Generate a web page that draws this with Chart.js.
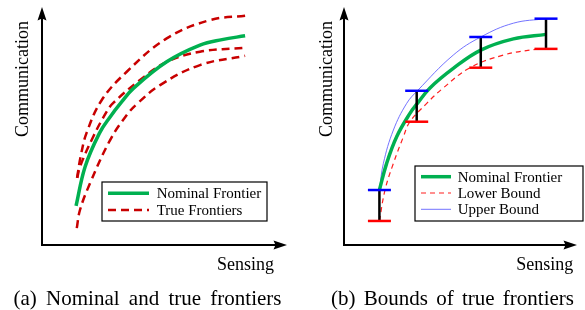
<!DOCTYPE html>
<html>
<head>
<meta charset="utf-8">
<script src="https://cdn.jsdelivr.net/npm/chart.js@4.4.1/dist/chart.umd.min.js"></script>
<style>
  html, body { margin: 0; padding: 0; background: #fff; }
  #wrap { position: relative; width: 585px; height: 310px; }
  canvas { position: absolute; top: 0; }
</style>
</head>
<body>
<div id="wrap">
  <canvas id="chartA" width="292" height="310" style="left:0"></canvas>
  <canvas id="chartB" width="293" height="310" style="left:292px"></canvas>
</div>
<script>
// ---- (a) nominal and true frontiers (sensing / communication, arbitrary units 0..10)
const nominalX_a = [1.39, 1.76, 2.34, 2.78, 3.25, 3.73, 5.09, 6.45, 7.35, 8.29];
const nominalY_a = [1.64, 3.29, 4.69, 5.38, 6.01, 6.58, 7.70, 8.40, 8.63, 8.79];

const trueHighX_a = [1.43, 1.59, 1.82, 2.44, 3.46, 5.09, 6.86, 8.29];
const trueHighY_a = [2.82, 3.78, 4.71, 6.09, 7.28, 8.68, 9.45, 9.63];

const trueMidX_a = [1.44, 1.55, 2.09, 2.64, 2.91, 4.00, 5.09, 6.45, 8.29];
const trueMidY_a = [2.82, 3.29, 4.55, 5.60, 5.97, 6.93, 7.69, 8.12, 8.29];

const trueLowX_a = [1.42, 1.55, 1.96, 2.78, 3.46, 3.87, 4.82, 6.45, 8.29];
const trueLowY_a = [0.71, 1.47, 2.59, 4.41, 5.46, 5.92, 6.72, 7.56, 7.95];

// ---- (b) bounds of true frontiers
const nominalX_b = [1.52, 1.83, 2.26, 2.83, 3.15, 3.69, 4.69, 5.87, 7.27, 8.67];
const nominalY_b = [2.31, 3.43, 4.55, 5.53, 5.95, 6.60, 7.42, 8.19, 8.66, 8.85];

const lowerX_b = [1.52, 1.76, 2.12, 2.55, 2.83, 3.55, 4.26, 5.41, 6.84, 8.20, 8.67];
const lowerY_b = [1.01, 2.31, 3.43, 4.55, 5.18, 5.95, 6.60, 7.45, 7.98, 8.22, 8.24];

const upperX_b = [1.52, 1.69, 2.12, 2.69, 3.15, 4.69, 5.87, 7.27, 8.67];
const upperY_b = [2.31, 3.43, 4.83, 5.95, 6.48, 7.98, 8.74, 9.32, 9.51];

const barX_b = [1.52, 3.12, 5.87, 8.67];
const barHigh_b = [2.31, 6.48, 8.74, 9.51];
const barLow_b = [1.01, 5.18, 7.45, 8.24];

const SERIF = '"Liberation Serif", "Times New Roman", serif';
const GREEN = 'rgb(0,176,80)';

function pts(xs, ys) {
  return xs.map((x, i) => ({ x: x, y: ys[i] }));
}

// axes with arrows, axis titles, boxed legend and the caption
const sketchFrame = {
  id: 'sketchFrame',
  afterDraw(chart, args, o) {
    const ctx = chart.ctx;
    const xs = chart.scales.x, ys = chart.scales.y;
    const ox = xs.getPixelForValue(xs.min), oy = ys.getPixelForValue(ys.min);
    const ex = xs.getPixelForValue(xs.max), ey = ys.getPixelForValue(ys.max);
    ctx.save();
    ctx.strokeStyle = '#000';
    ctx.fillStyle = '#000';
    ctx.lineWidth = 2;
    ctx.beginPath();
    ctx.moveTo(ox, oy); ctx.lineTo(ox, ey + 10);
    ctx.moveTo(ox - 1, oy); ctx.lineTo(ex - 10, oy);
    ctx.stroke();
    // stealth-like arrow heads
    ctx.beginPath();
    ctx.moveTo(ox, ey); ctx.lineTo(ox - 4.5, ey + 13.5); ctx.lineTo(ox, ey + 11.5); ctx.lineTo(ox + 4.5, ey + 13.5); ctx.closePath();
    ctx.moveTo(ex, oy); ctx.lineTo(ex - 13.5, oy - 4.5); ctx.lineTo(ex - 11.5, oy); ctx.lineTo(ex - 13.5, oy + 4.5); ctx.closePath();
    ctx.fill();

    // axis titles
    ctx.font = '18px ' + SERIF;
    ctx.textBaseline = 'alphabetic';
    ctx.textAlign = 'center';
    ctx.save();
    ctx.translate(o.yTitleX, o.yTitleY);
    ctx.rotate(-Math.PI / 2);
    ctx.fillText(o.yTitle, 0, 0);
    ctx.restore();
    ctx.textAlign = 'right';
    ctx.fillText(o.xTitle, o.xTitleRight, o.xTitleBase);

    // legend
    const lg = o.legend;
    const items = chart.data.datasets.filter(d => d.label);
    ctx.fillStyle = '#fff';
    ctx.fillRect(lg.x, lg.y, lg.w, lg.h);
    ctx.lineWidth = 1.2;
    ctx.strokeStyle = '#000';
    ctx.strokeRect(lg.x, lg.y, lg.w, lg.h);
    ctx.font = '15px ' + SERIF;
    ctx.textAlign = 'left';
    items.forEach((d, i) => {
      const yy = lg.y + lg.first + i * lg.step;
      ctx.save();
      ctx.strokeStyle = d.borderColor;
      ctx.lineWidth = d.borderWidth;
      ctx.setLineDash(d.borderDash || []);
      ctx.beginPath();
      ctx.moveTo(lg.x + lg.sx0, yy);
      ctx.lineTo(lg.x + lg.sx1, yy);
      ctx.stroke();
      ctx.restore();
      ctx.fillStyle = '#000';
      ctx.fillText(d.label, lg.x + lg.tx, yy + 5);
    });

    // caption
    ctx.font = '21px ' + SERIF;
    ctx.textAlign = 'center';
    ctx.fillStyle = '#000';
    if ('wordSpacing' in ctx) ctx.wordSpacing = o.wordSpacing + 'px';
    ctx.fillText(o.caption, o.captionX, o.captionBase);
    ctx.restore();
  }
};

function baseOptions(pad, frame) {
  return {
    responsive: false,
    animation: false,
    events: [],
    layout: { padding: pad, autoPadding: false },
    scales: {
      x: { type: 'linear', min: 0, max: 10, display: false },
      y: { type: 'linear', min: 0, max: 10, display: false }
    },
    elements: { point: { radius: 0 } },
    plugins: {
      legend: { display: false },
      tooltip: { enabled: false },
      sketchFrame: frame
    }
  };
}

function curve(label, xs, ys, color, width, dash, order) {
  return {
    label: label,
    data: pts(xs, ys),
    borderColor: color,
    borderWidth: width,
    borderDash: dash,
    tension: 0.4,
    pointRadius: 0,
    fill: false,
    clip: false,
    order: order
  };
}

// ---- chart (a)
const redA = 'rgb(200,0,0)';
const hiA = curve(null, trueHighX_a, trueHighY_a, redA, 2.5, [8, 5], 2);
const midA = curve(null, trueMidX_a, trueMidY_a, redA, 2.5, [8, 5], 2);
const loA = curve('True Frontiers', trueLowX_a, trueLowY_a, redA, 2.5, [8, 5], 2);
new Chart(document.getElementById('chartA'), {
  type: 'line',
  data: {
    datasets: [
      curve('Nominal Frontier', nominalX_a, nominalY_a, GREEN, 3.5, [], 1),
      loA, hiA, midA
    ]
  },
  options: baseOptions({ left: 42, right: 5, top: 7, bottom: 65 }, {
    yTitle: 'Communication', yTitleX: 27.5, yTitleY: 79,
    xTitle: 'Sensing', xTitleRight: 274, xTitleBase: 270,
    caption: '(a) Nominal and true frontiers', captionX: 147.5, captionBase: 305, wordSpacing: 4,
    legend: { x: 102, y: 182, w: 165, h: 39, first: 11.3, step: 16.7, sx0: 6, sx1: 47, tx: 54.7 }
  }),
  plugins: [sketchFrame]
});

// ---- chart (b)
const barLines = [];
barX_b.forEach((x, i) => {
  barLines.push({ x: x, y: barLow_b[i] }, { x: x, y: barHigh_b[i] }, { x: x, y: null });
});
new Chart(document.getElementById('chartB'), {
  type: 'line',
  data: {
    datasets: [
      curve('Nominal Frontier', nominalX_b, nominalY_b, GREEN, 3.5, [], 3),
      curve('Lower Bound', lowerX_b, lowerY_b, 'rgb(255,30,30)', 1.2, [5, 4], 3),
      curve('Upper Bound', upperX_b, upperY_b, 'rgba(90,90,255,0.85)', 1, [], 3),
      {
        data: barLines, borderColor: '#000', borderWidth: 2.5, spanGaps: false,
        tension: 0, pointRadius: 0, clip: false, order: 2
      },
      {
        data: pts(barX_b, barHigh_b), showLine: false, pointStyle: 'line',
        pointRadius: 11.5, pointBorderWidth: 2.5, pointBorderColor: 'rgb(0,0,255)',
        borderColor: 'rgb(0,0,255)', clip: false, order: 1
      },
      {
        data: pts(barX_b, barLow_b), showLine: false, pointStyle: 'line',
        pointRadius: 11.5, pointBorderWidth: 2.5, pointBorderColor: 'rgb(255,0,0)',
        borderColor: 'rgb(255,0,0)', clip: false, order: 1
      }
    ]
  },
  options: baseOptions({ left: 52, right: 8, top: 7, bottom: 65 }, {
    yTitle: 'Communication', yTitleX: 39.5, yTitleY: 79,
    xTitle: 'Sensing', xTitleRight: 281.3, xTitleBase: 270,
    caption: '(b) Bounds of true frontiers', captionX: 160.5, captionBase: 305, wordSpacing: 3,
    legend: { x: 123, y: 166, w: 168, h: 55, first: 10.7, step: 16.3, sx0: 6, sx1: 36, tx: 42.7 }
  }),
  plugins: [sketchFrame]
});
</script>
</body>
</html>
